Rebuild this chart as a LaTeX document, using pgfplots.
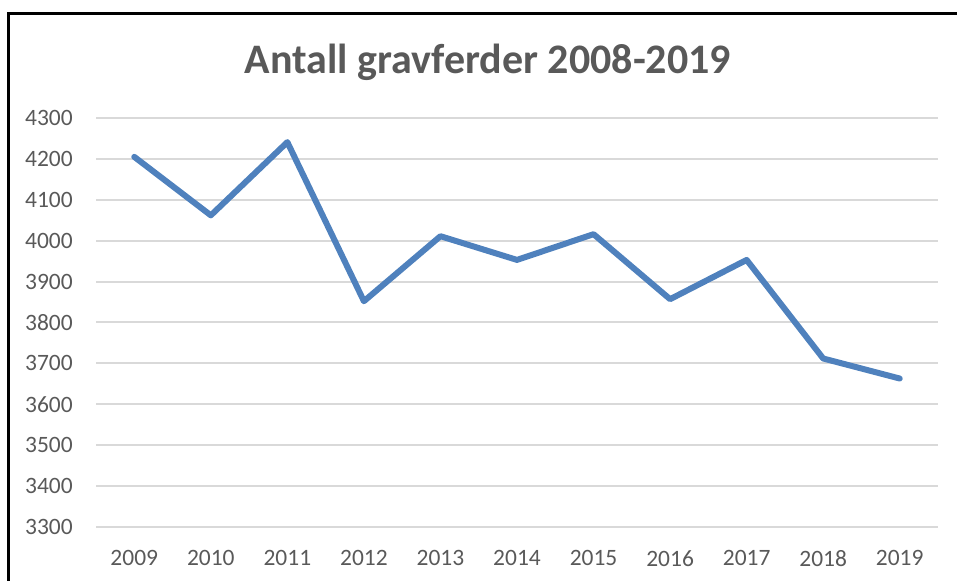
\documentclass[border=0pt]{standalone}
\usepackage{fontspec}
\setmainfont{Carlito}
\usepackage{pgfplots}
\pgfplotsset{compat=1.18}
\definecolor{excelblue}{HTML}{4F81BD}
\definecolor{gridgray}{HTML}{D9D9D9}
\definecolor{txtgray}{HTML}{595959}

\begin{document}
\begin{tikzpicture}
% 1 px of the reference = 0.75pt
\useasboundingbox (0pt,0pt) rectangle (717.75pt,435.75pt);
% chart frame (only left and top edges visible)
\draw[black,line width=2.25pt] (6.4pt,0pt) -- (6.4pt,425.6pt) -- (717.75pt,425.6pt);
\node[txtgray,font=\fontsize{31.5}{36}\selectfont\bfseries] at (366pt,389.25pt) {Antall gravferder 2008-2019};
\begin{axis}[at={(72pt,40.5pt)},anchor=south west,scale only axis,
  width=631.5pt,height=306.75pt,
  xmin=-0.5,xmax=10.5,ymin=3300,ymax=4300,
  xtick={0,...,10},
  xticklabels={2009,2010,2011,2012,2013,2014,2015,2016,2017,2018,2019},
  ytick={3300,3400,...,4300},
  ymajorgrids,
  grid style={gridgray,line width=1.5pt},
  axis line style={draw=none},
  major tick length=0pt,
  /pgf/number format/assume math mode=true,
  /pgf/number format/1000 sep={},
  tick label style={txtgray,font=\fontsize{17.6}{20}\selectfont,inner sep=0pt},
  yticklabel style={anchor=east,xshift=-17.25pt},
  xticklabel style={anchor=north,yshift=-17.5pt},
  clip=false]
\addplot[excelblue,line width=4.5pt,line join=round,line cap=round] coordinates {
  (0,4205) (1,4062) (2,4241) (3,3852) (4,4011) (5,3953)
  (6,4016) (7,3857) (8,3953) (9,3712) (10,3663)};
\end{axis}
\end{tikzpicture}
\end{document}
